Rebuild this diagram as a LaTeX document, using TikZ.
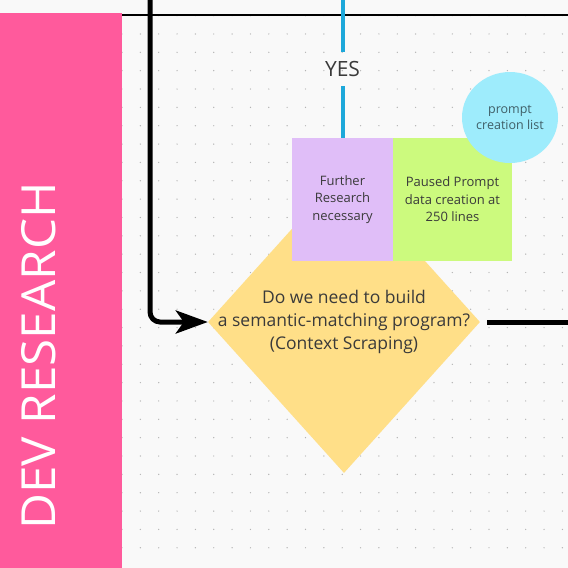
\documentclass[tikz,border=0pt]{standalone}
\usepackage{fontspec}
\setmainfont{Open Sans}
\usetikzlibrary{shapes.geometric,arrows.meta}
\definecolor{bgc}{HTML}{F9F9F9}
\definecolor{dotc}{HTML}{B4B4B4}
\definecolor{pinkc}{HTML}{FF5A9C}
\definecolor{purplec}{HTML}{E0BEF8}
\definecolor{greenc}{HTML}{CCFA7E}
\definecolor{yellowc}{HTML}{FFDF88}
\definecolor{cyanc}{HTML}{9EECFC}
\definecolor{bluec}{HTML}{1DA8DA}
\definecolor{txtc}{HTML}{3A3A3A}
\definecolor{circtxt}{HTML}{3F5E66}
\tikzset{
  sticky/.style={draw=none, inner sep=0pt, minimum height=123pt, text=txtc, align=center,
    font=\fontsize{13}{17.5}\selectfont},
  flowline/.style={line width=5pt, black},
  yesline/.style={line width=4pt, bluec},
}
\begin{document}
\begin{tikzpicture}[x=1pt,y=-1pt]
\useasboundingbox (0,0) rectangle (568,568);
\fill[bgc] (0,0) rectangle (568,568);
% dot grid
\foreach \i in {0,...,24}{
  \foreach \j in {0,...,29}{
    \fill[dotc] (122+18.35*\i, 15.6+18.35*\j) circle (0.7pt);
  }
}
\fill[bgc] (0,0) rectangle (568,14);
% lane
\node[fill=pinkc, minimum width=122pt, minimum height=555pt, inner sep=0pt, anchor=north west] (lane) at (0,13) {};
\node[rotate=90, text=white, font=\fontsize{47}{47}\selectfont] (lanelabel) at (38.5,356) {\scalebox{1.05}[1]{DEV RESEARCH}};
% top border line
\coordinate (tlA) at (122,15);
\coordinate (tlB) at (568,15);
\draw[line width=2pt, black] (tlA) -- (tlB);
% diamond
\node[diamond, fill=yellowc, minimum width=272pt, minimum height=302pt, inner sep=0pt, aspect=0.9] (dia) at (344,322) {};
\node[text=txtc, align=center, font=\fontsize{17.5}{23}\selectfont] (diatext) at (344,322)
  {Do we need to build\\a semantic-matching program?\\(Context Scraping)};
% sticky notes
\node[sticky, fill=purplec, minimum width=101pt] (further) at (342.5,199.5) {Further\\Research\\necessary};
\node[sticky, fill=greenc, minimum width=119pt] (paused) at (452.5,199.5) {Paused Prompt\\data creation at\\250 lines};
% circle
\node[ellipse, fill=cyanc, minimum width=96pt, minimum height=91pt, inner sep=0pt, text=circtxt, align=center,
  font=\fontsize{12.5}{16.5}\selectfont] (plist) at (510,117.5) {prompt\\creation list};
% YES connector
\node[text=txtc, font=\fontsize{21}{21}\selectfont, minimum height=34pt, inner sep=0pt] (yes) at (342.5,69) {YES};
\coordinate (bluetop) at (342.5,0);
\draw[yesline] (bluetop) -- (yes.north);
\draw[yesline] (yes.south) -- (yes.south |- further.north);
% black flow into diamond
\coordinate (blacktop) at (150,0);
\draw[flowline, rounded corners=10pt, -{Stealth[length=32pt, width=23pt, inset=8pt]}] (blacktop) |- (dia.west);
% black flow out of diamond
\coordinate (rightend) at (568,322);
\draw[flowline] ([xshift=7pt]dia.east) -- (rightend);
\end{tikzpicture}
\end{document}
